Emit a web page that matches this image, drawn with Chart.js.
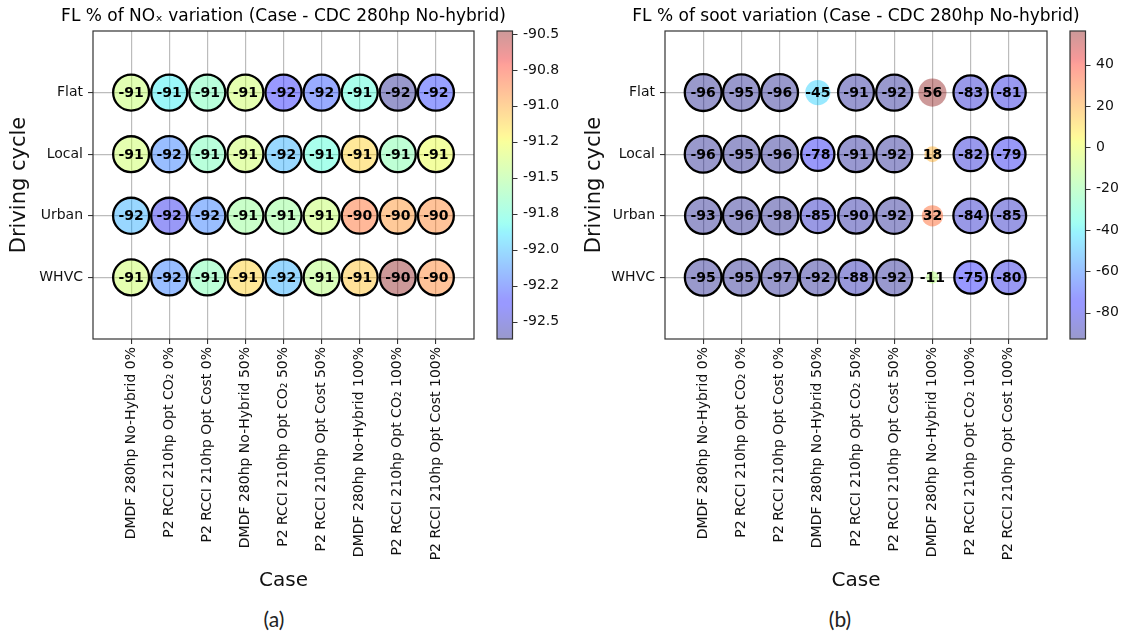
<!DOCTYPE html>
<html>
<head>
<meta charset="utf-8">
<script src="https://cdn.jsdelivr.net/npm/chart.js@4.4.1/dist/chart.umd.min.js"></script>
<style>
  html, body { margin: 0; padding: 0; background: #fff; }
  body { width: 1121px; height: 639px; position: relative; overflow: hidden; }
  canvas { position: absolute; top: 0; }
  #noxChart { left: 0; }
  #sootChart { left: 560px; }
  .cap { position: absolute; top: 606px; width: 60px; margin-left: -30px; text-align: center;
         font-family: Lato, "Open Sans", sans-serif; font-size: 21px; color: #222; }
</style>
</head>
<body>
<canvas id="noxChart" width="560" height="600"></canvas>
<canvas id="sootChart" width="561" height="600"></canvas>
<div class="cap" style="left:274px">(a)</div>
<div class="cap" style="left:840px">(b)</div>

<script>
// Driving cycles (rows) and powertrain cases (columns)
const cycles = ['Flat', 'Local', 'Urban', 'WHVC'];
const cases = [
  'DMDF 280hp No-Hybrid 0%',
  'P2 RCCI 210hp Opt CO\u2082 0%',
  'P2 RCCI 210hp Opt Cost 0%',
  'DMDF 280hp No-Hybrid 50%',
  'P2 RCCI 210hp Opt CO\u2082 50%',
  'P2 RCCI 210hp Opt Cost 50%',
  'DMDF 280hp No-Hybrid 100%',
  'P2 RCCI 210hp Opt CO\u2082 100%',
  'P2 RCCI 210hp Opt Cost 100%'
];

// FL % of NOx variation vs CDC 280hp No-hybrid, one array per driving cycle
const noxFlat  = [-91.40, -91.86, -91.66, -91.38, -92.37, -92.26, -91.77, -92.62, -92.31];
const noxLocal = [-91.38, -92.16, -91.66, -91.38, -92.02, -91.77, -91.12, -91.62, -91.28];
const noxUrban = [-92.03, -92.42, -92.16, -91.55, -91.55, -91.40, -90.85, -90.95, -90.91];
const noxWhvc  = [-91.38, -92.16, -91.64, -91.12, -92.03, -91.45, -91.08, -90.48, -90.91];

// FL % of soot variation vs CDC 280hp No-hybrid
const sootFlat  = [-96, -95, -96, -45, -91, -92, 56, -83, -81];
const sootLocal = [-96, -95, -96, -78, -91, -92, 18, -82, -79];
const sootUrban = [-93, -96, -98, -85, -90, -92, 32, -84, -85];
const sootWhvc  = [-95, -95, -97, -92, -88, -92, -11, -75, -80];

// Colour-bar limits and tick labels
const noxRange = [-92.62, -90.48];
const noxCbTicks = [-92.5, -92.25, -92.0, -91.75, -91.5, -91.25, -91.0, -90.75, -90.5];
const noxCbLabels = ['-92.5', '-92.2', '-92.0', '-91.8', '-91.5', '-91.2', '-91.0', '-90.8', '-90.5'];
const sootRange = [-92.7, 56.3];
const sootCbTicks = [-80, -60, -40, -20, 0, 20, 40];
const sootCbLabels = ['-80', '-60', '-40', '-20', '0', '20', '40'];

// ---- jet colormap ----
const JET = {
  r: [[0, 0], [0.35, 0], [0.66, 1], [0.89, 1], [1, 0.5]],
  g: [[0, 0], [0.125, 0], [0.375, 1], [0.64, 1], [0.91, 0], [1, 0]],
  b: [[0, 0.5], [0.11, 1], [0.34, 1], [0.65, 0], [1, 0]]
};
function seg(pts, t) {
  for (let i = 1; i < pts.length; i++) {
    if (t <= pts[i][0]) {
      const [x0, y0] = pts[i - 1], [x1, y1] = pts[i];
      return y0 + (y1 - y0) * (t - x0) / (x1 - x0);
    }
  }
  return pts[pts.length - 1][1];
}
function jet(t, a) {
  t = Math.max(0, Math.min(1, t));
  const c = k => Math.round(255 * seg(JET[k], t));
  return `rgba(${c('r')},${c('g')},${c('b')},${a})`;
}
const FILL_ALPHA = 0.4;

Chart.defaults.font.family = '"DejaVu Sans", sans-serif';
Chart.defaults.color = '#111';

// Axes title centred over the plotting area, frame around it
const frame = {
  id: 'frame',
  afterDatasetsDraw(chart, _args, opts) {
    const { ctx, chartArea: a } = chart;
    ctx.save();
    ctx.strokeStyle = '#333';
    ctx.lineWidth = 1.2;
    ctx.strokeRect(a.left, a.top, a.right - a.left, a.bottom - a.top);
    ctx.fillStyle = '#000';
    ctx.font = `${opts.titleSize}px "DejaVu Sans"`;
    ctx.textAlign = 'center';
    ctx.textBaseline = 'middle';
    ctx.fillText(opts.title, (a.left + a.right) / 2, opts.titleY);
    ctx.restore();
  }
};

// Value written in the middle of each bubble
const valueLabels = {
  id: 'valueLabels',
  afterDatasetsDraw(chart) {
    const ctx = chart.ctx;
    ctx.save();
    ctx.font = 'bold 14px "DejaVu Sans"';
    ctx.fillStyle = '#000';
    ctx.textAlign = 'center';
    ctx.textBaseline = 'middle';
    chart.data.datasets.forEach((ds, i) => {
      chart.getDatasetMeta(i).data.forEach((el, j) => {
        ctx.fillText(ds.valueText[j], el.x, el.y + 1);
      });
    });
    ctx.restore();
  }
};

// Gradient colour bar drawn next to the 'cb' scale
const colorbar = {
  id: 'colorbar',
  afterDraw(chart, _args, opts) {
    const s = chart.scales.cb, a = chart.chartArea, ctx = chart.ctx;
    const x0 = a.right + opts.gap, w = opts.width;
    const g = ctx.createLinearGradient(0, s.bottom, 0, s.top);
    for (let i = 0; i <= 100; i++) g.addColorStop(i / 100, jet(i / 100, FILL_ALPHA));
    ctx.save();
    ctx.fillStyle = g;
    ctx.fillRect(x0, s.top, w, s.bottom - s.top);
    ctx.strokeStyle = '#333';
    ctx.lineWidth = 1.2;
    ctx.strokeRect(x0, s.top, w, s.bottom - s.top);
    ctx.lineWidth = 1;
    s.ticks.forEach(t => {
      const y = Math.round(s.getPixelForValue(t.value)) + 0.5;
      ctx.beginPath();
      ctx.moveTo(x0 + w, y);
      ctx.lineTo(x0 + w + 5, y);
      ctx.stroke();
    });
    ctx.restore();
  }
};

function buildPanel(id, o) {
  const pts = [], bg = [], bw = [], txt = [];
  o.rows.forEach((vals, yi) => vals.forEach((v, xi) => {
    pts.push({ x: xi, y: yi, r: 1.88 * Math.sqrt(Math.abs(v)) });
    bg.push(jet((v - o.range[0]) / (o.range[1] - o.range[0]), FILL_ALPHA));
    bw.push(v <= -50 ? 2.3 : 0);
    txt.push(String(Math.trunc(v)));
  }));

  const gridOpts = { color: '#bcbcbc', lineWidth: 1.2, tickLength: 5, tickColor: '#222', tickWidth: 1 };

  return new Chart(document.getElementById(id), {
    type: 'bubble',
    data: {
      datasets: [{
        data: pts,
        backgroundColor: bg,
        borderColor: '#000',
        borderWidth: bw,
        valueText: txt
      }]
    },
    options: {
      responsive: false,
      animation: false,
      events: [],
      layout: { padding: { top: 31, left: 0, right: 0, bottom: 0 } },
      plugins: {
        legend: { display: false },
        tooltip: { enabled: false },
        title: { display: false },
        frame: { title: o.title, titleSize: 17, titleY: 17 },
        colorbar: { gap: 23, width: 15.5 }
      },
      scales: {
        x: {
          type: 'linear', min: -1, max: 9,
          afterBuildTicks: s => { s.ticks = cases.map((_, i) => ({ value: i })); },
          ticks: {
            callback: v => cases[v], autoSkip: false, minRotation: 90, maxRotation: 90,
            font: { size: 14 }, color: '#111', padding: 3
          },
          grid: gridOpts,
          border: { display: false },
          title: { display: true, text: 'Case', font: { size: 20 }, color: '#111', padding: { top: 0, bottom: 7 } },
          afterFit: s => { s.height = 261; }
        },
        y: {
          type: 'linear', min: -1, max: 4, reverse: true,
          afterBuildTicks: s => { s.ticks = cycles.map((_, i) => ({ value: i })); },
          ticks: { callback: v => cycles[v], font: { size: 14 }, color: '#111', padding: 5 },
          grid: gridOpts,
          border: { display: false },
          title: { display: true, text: 'Driving cycle', font: { size: 21 }, color: '#111', padding: { top: o.yTitlePad } },
          afterFit: s => { s.width = o.yWidth; }
        },
        cb: {
          type: 'linear', position: 'right', min: o.range[0], max: o.range[1],
          afterBuildTicks: s => { s.ticks = o.cbTicks.map(v => ({ value: v })); },
          ticks: { callback: (v, i) => o.cbLabels[i], font: { size: 14 }, color: '#111', padding: 6 },
          grid: { display: false, drawTicks: true, tickLength: 43 },
          border: { display: false },
          afterFit: s => { s.width = o.cbWidth; }
        }
      }
    },
    plugins: [frame, valueLabels, colorbar]
  });
}

buildPanel('noxChart', {
  title: 'FL % of NO\u2093 variation (Case - CDC 280hp No-hybrid)',
  rows: [noxFlat, noxLocal, noxUrban, noxWhvc],
  range: noxRange, cbTicks: noxCbTicks, cbLabels: noxCbLabels,
  yWidth: 93, cbWidth: 86, yTitlePad: 7
});

buildPanel('sootChart', {
  title: 'FL % of soot variation (Case - CDC 280hp No-hybrid)',
  rows: [sootFlat, sootLocal, sootUrban, sootWhvc],
  range: sootRange, cbTicks: sootCbTicks, cbLabels: sootCbLabels,
  yWidth: 105, cbWidth: 74, yTitlePad: 22
});
</script>
</body>
</html>
